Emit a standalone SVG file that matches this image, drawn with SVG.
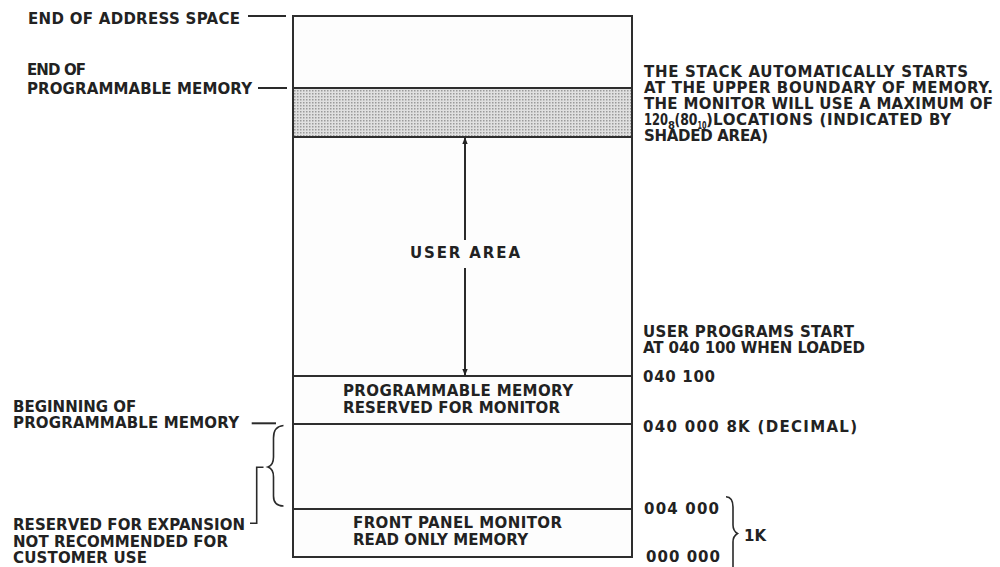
<svg xmlns="http://www.w3.org/2000/svg" width="1000" height="567" viewBox="0 0 1000 567">
<style>
text{font-family:"DejaVu Sans","Liberation Sans",sans-serif;font-weight:bold;font-size:15px;fill:#222}
.sub{font-size:10px}
.ln{stroke:#2a2a2a;stroke-width:2;fill:none}
.thin{stroke:#2a2a2a;stroke-width:1.6;fill:none}
.box{fill:#fdfdfd;stroke:#2e2e2e;stroke-width:2}
</style>
<defs>
<pattern id="dots" width="3" height="3" patternUnits="userSpaceOnUse">
<rect width="3" height="3" fill="#e0e0e0"/>
<rect x="0" y="0" width="1.5" height="1.5" fill="#9a9a9a"/>
</pattern>
<marker id="ah" viewBox="0 0 10 10" refX="9" refY="5" markerWidth="7" markerHeight="7" orient="auto-start-reverse" markerUnits="userSpaceOnUse">
<path d="M0,1 L10,5 L0,9 Z" fill="#222"/>
</marker>
</defs>
<rect width="1000" height="567" fill="#ffffff"/>

<g id="memory-map">
<rect class="box" x="293" y="16" width="339" height="541"/>
</g>
<g id="stack-area">
<rect x="293" y="88" width="339" height="49" fill="url(#dots)" stroke="#2e2e2e" stroke-width="2"/>
</g>
<g id="user-area">
<text x="410" y="258" textLength="110" lengthAdjust="spacing">USER AREA</text>
</g>
<g id="monitor-reserved">
<rect class="box" x="293" y="376" width="339" height="48"/>
<text x="343" y="396" textLength="230" lengthAdjust="spacing">PROGRAMMABLE MEMORY</text>
<text x="343" y="412.7" textLength="217" lengthAdjust="spacing">RESERVED FOR MONITOR</text>
</g>
<g id="expansion">
<rect class="box" x="293" y="424" width="339" height="85"/>
</g>
<g id="rom">
<rect class="box" x="293" y="509" width="339" height="48"/>
<text x="353" y="528" textLength="209" lengthAdjust="spacing">FRONT PANEL MONITOR</text>
<text x="353" y="545" textLength="175" lengthAdjust="spacing">READ ONLY MEMORY</text>
</g>

<g id="left-labels">
<text x="28" y="24" textLength="212" lengthAdjust="spacing">END OF ADDRESS SPACE</text>
<text x="27" y="75" textLength="59" lengthAdjust="spacing">END OF</text>
<text x="27" y="93.5" textLength="225" lengthAdjust="spacing">PROGRAMMABLE MEMORY</text>
<text x="13" y="411.7">BEGINNING OF</text>
<text x="13" y="428" textLength="226" lengthAdjust="spacing">PROGRAMMABLE MEMORY</text>
<text x="13" y="530" textLength="232" lengthAdjust="spacing">RESERVED FOR EXPANSION</text>
<text x="13" y="546.7" textLength="215" lengthAdjust="spacing">NOT RECOMMENDED FOR</text>
<text x="13" y="563" textLength="134" lengthAdjust="spacing">CUSTOMER USE</text>
</g>

<g id="right-labels">
<text x="644" y="77" textLength="324" lengthAdjust="spacing">THE STACK AUTOMATICALLY STARTS</text>
<text x="644" y="93" textLength="349" lengthAdjust="spacing">AT THE UPPER BOUNDARY OF MEMORY.</text>
<text x="644" y="109" textLength="349" lengthAdjust="spacing">THE MONITOR WILL USE A MAXIMUM OF</text>
<text x="644" y="125"><tspan x="644" y="125" textLength="24" lengthAdjust="spacingAndGlyphs">120</tspan><tspan class="sub" x="668" y="128.5">8</tspan><tspan x="674.5" y="125" textLength="23" lengthAdjust="spacingAndGlyphs">(80</tspan><tspan class="sub" x="697.5" y="128.5" textLength="9" lengthAdjust="spacingAndGlyphs">10</tspan><tspan x="706" y="125">)</tspan><tspan x="713" y="125" textLength="238" lengthAdjust="spacing">LOCATIONS (INDICATED BY</tspan></text>
<text x="644" y="141" textLength="124" lengthAdjust="spacing">SHADED AREA)</text>
<text x="643" y="336.5" textLength="211" lengthAdjust="spacing">USER PROGRAMS START</text>
<text x="643" y="352.5" textLength="222" lengthAdjust="spacing">AT 040 100 WHEN LOADED</text>
<text x="643" y="381.5" textLength="72" lengthAdjust="spacing">040 100</text>
<text x="643" y="431.5" textLength="214" lengthAdjust="spacing">040 000 8K (DECIMAL)</text>
<text x="644" y="514" textLength="75" lengthAdjust="spacing">004 000</text>
<text x="646" y="561.5" textLength="74" lengthAdjust="spacing">000 000</text>
<text x="744" y="541">1K</text>
</g>

<g id="connectors">
<line class="ln" x1="248" y1="16" x2="286" y2="16"/>
<line class="ln" x1="258" y1="88" x2="287" y2="88"/>
<line class="ln" x1="251.7" y1="423.3" x2="276" y2="423.3"/>
<path class="thin" d="M283.5,425.5 C277,426 273.5,430 273.5,438 L273.5,457 C273.5,463 271,466 268,467 C271,468 273.5,471 273.5,477 L273.5,496 C273.5,503 277,506 283.5,506"/>
<path class="thin" d="M250,523.3 L256.7,523.3 L256.7,467.3 L263.5,467.3"/>
<path class="thin" d="M726,496.7 C731,497 733,500 733,507 L733,525 C733,530 735,532 737.5,533.5 C735,535 733,537 733,542 L733,567"/>
<line class="ln" x1="465" y1="240" x2="465" y2="138" stroke-width="1.6" marker-end="url(#ah)"/>
<line class="ln" x1="465" y1="268" x2="465" y2="375" stroke-width="1.6" marker-end="url(#ah)"/>
</g>
</svg>
